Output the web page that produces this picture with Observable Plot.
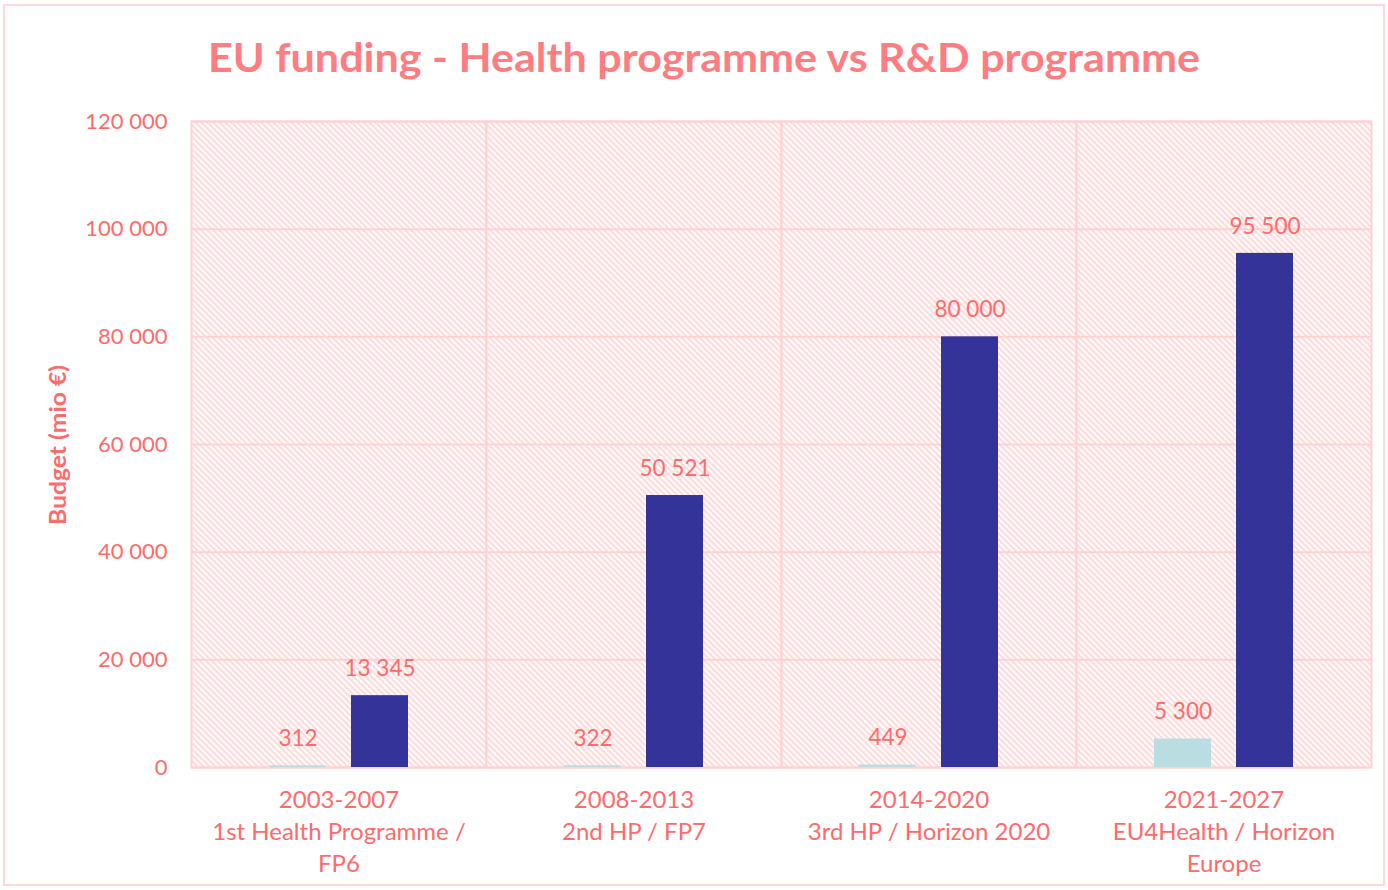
<!DOCTYPE html>
<html>
<head>
<meta charset="utf-8">
<script src="https://cdn.jsdelivr.net/npm/d3@7"></script>
<script src="https://cdn.jsdelivr.net/npm/@observablehq/plot@0.6"></script>
<style>
  html, body { margin: 0; padding: 0; background: #fff; }
  svg { display: block; }
</style>
</head>
<body>
<div id="chart"></div>
<script>
// ---- data ----
const periods = ["2003-2007", "2008-2013", "2014-2020", "2021-2027"];
const programmes = ["1st Health Programme /\nFP6", "2nd HP / FP7", "3rd HP / Horizon 2020", "EU4Health / Horizon\nEurope"];
const seriesNames = ["Health programme", "R&D programme"];
const healthValues = [312, 322, 449, 5300];
const rndValues = [13345, 50521, 80000, 95500];
const yTicks = [0, 20000, 40000, 60000, 80000, 100000, 120000];
const titleText = "EU funding - Health programme vs R&D programme";
const yLabel = "Budget (mio €)";

const textColor = "#ff6a6a";
const titleColor = "#ff7c80";
const gridColor = "#ffd2d2";
const colors = ["#b9dde0", "#333399"];

const data = [];
periods.forEach((p, i) => {
  data.push({period: p, series: seriesNames[0], value: healthValues[i]});
  data.push({period: p, series: seriesNames[1], value: rndValues[i]});
});
const labelOf = Object.fromEntries(periods.map((p, i) => [p, p + "\n" + programmes[i]]));
const fmt = v => d3.format(",")(v).replace(/,/g, " ");

const chart = Plot.plot({
  width: 1388,
  height: 890,
  marginTop: 121,
  marginBottom: 123,
  marginLeft: 190,
  marginRight: 16,
  style: {fontFamily: "Lato, 'Open Sans', sans-serif", background: "#fff"},
  fx: {domain: periods, padding: 0, axis: null},
  x: {domain: seriesNames, paddingInner: 0.3, paddingOuter: 0.93, axis: null},
  y: {domain: [0, 120000], axis: null},
  color: {domain: seriesNames, range: colors},
  marks: [
    Plot.frame({fill: "url(#hatch)", stroke: gridColor, strokeWidth: 2}),
    Plot.gridY(yTicks, {stroke: gridColor, strokeOpacity: 1, strokeWidth: 2}),
    Plot.axisY(yTicks, {tickFormat: fmt, tickSize: 0, tickPadding: 24, fontSize: 22, fill: textColor, label: null}),
    Plot.axisFx({anchor: "bottom", tickFormat: d => labelOf[d], tickSize: 0, tickPadding: 18, fontSize: 24, lineHeight: 1.33, fill: textColor, label: null}),
    Plot.barY(data, {fx: "period", x: "series", y: "value", fill: "series"}),
    Plot.text(data, {fx: "period", x: "series", y: "value", text: d => fmt(d.value), dy: -27, fontSize: 22.5, fill: textColor})
  ]
});

const svg = d3.select(chart);
const defs = svg.insert("defs", ":first-child");
const pat = defs.append("pattern")
  .attr("id", "hatch").attr("patternUnits", "userSpaceOnUse")
  .attr("width", 6).attr("height", 6);
pat.append("rect").attr("width", 6).attr("height", 6).attr("fill", "#fff");
pat.append("path").attr("d", "M-1,-1 L7,7 M-1,5 L1,7 M5,-1 L7,1")
  .attr("stroke", "#ffd6d6").attr("stroke-width", 2);

// outer chart border
svg.append("rect").attr("x", 4).attr("y", 5).attr("width", 1380).attr("height", 880)
  .attr("fill", "none").attr("stroke", "#ffd9d9").attr("stroke-width", 2);

// title
svg.append("text").attr("x", 704).attr("y", 72)
  .attr("text-anchor", "middle")
  .attr("font-family", "Lato, 'Open Sans', sans-serif")
  .attr("font-weight", "bold").attr("font-size", 40)
  .attr("fill", titleColor)
  .attr("textLength", 992).attr("lengthAdjust", "spacingAndGlyphs")
  .text(titleText);

// y axis label
svg.append("text")
  .attr("transform", "translate(66,445) rotate(-90)")
  .attr("text-anchor", "middle")
  .attr("font-family", "Lato, 'Open Sans', sans-serif")
  .attr("font-weight", "bold").attr("font-size", 23)
  .attr("fill", textColor)
  .attr("textLength", 160).attr("lengthAdjust", "spacingAndGlyphs")
  .text(yLabel);

document.getElementById("chart").appendChild(chart);
</script>
</body>
</html>
